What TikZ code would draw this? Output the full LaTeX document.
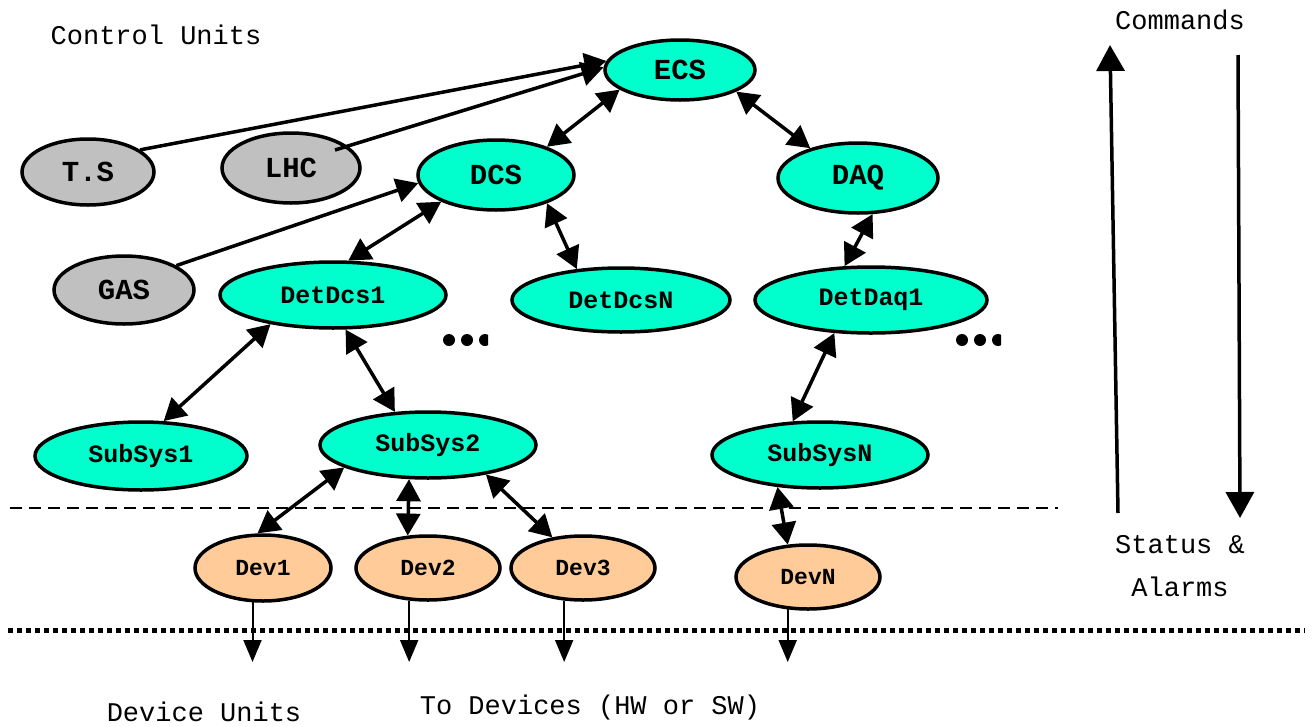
\documentclass[tikz,border=0pt]{standalone}
\usepackage{fontspec}
\setmonofont{Liberation Mono}
\usetikzlibrary{arrows.meta,shapes.geometric,calc}
\definecolor{aqua}{RGB}{0,255,204}
\definecolor{grayn}{RGB}{192,192,192}
\definecolor{peach}{RGB}{255,204,153}
\begin{document}
\begin{tikzpicture}[x=1pt,y=-1pt,
  unit/.style={ellipse, draw, line width=3.5pt, inner sep=0pt, fill=aqua,
    font=\ttfamily\bfseries\fontsize{25}{25}\selectfont},
  bigunit/.style={unit, font=\ttfamily\bfseries\fontsize{29}{29}\selectfont},
  extunit/.style={bigunit, fill=grayn},
  devunit/.style={unit, fill=peach, font=\ttfamily\bfseries\fontsize{23}{23}\selectfont},
  sz/.style 2 args={minimum width=#1pt, minimum height=#2pt},
  plain/.style={font=\ttfamily\fontsize{27}{27}\selectfont, inner sep=0pt},
  bigtri/.tip={Triangle[length=22pt,width=24pt]},
  devtri/.tip={Triangle[length=22pt,width=18pt]},
  sidetri/.tip={Triangle[length=26pt,width=28pt]},
  link/.style={line width=3.5pt, arrows={bigtri-bigtri}},
  feed/.style={line width=3.5pt, arrows={-bigtri}},
  devout/.style={line width=2pt, arrows={-devtri}},
  side/.style={line width=3.5pt, arrows={-sidetri}}
]
\useasboundingbox (0,0) rectangle (1315,726);

% nodes
\node[bigunit, sz={150}{60}] (ECS) at (680,70) {ECS};
\node[extunit, sz={132}{66}] (TS) at (88,172) {T.S};
\node[extunit, sz={138}{70}] (LHC) at (291,168) {LHC};
\node[bigunit, sz={156}{70}] (DCS) at (496,175) {DCS};
\node[bigunit, sz={160}{70}] (DAQ) at (858,178) {DAQ};
\node[extunit, sz={140}{68}] (GAS) at (124,290) {GAS};
\node[unit, sz={226}{66}] (DetDcs1) at (333,295) {DetDcs1};
\node[unit, sz={218}{64}] (DetDcsN) at (621,300) {DetDcsN};
\node[unit, sz={232}{66}] (DetDaq1) at (871,300) {DetDaq1};
\node[unit, sz={212}{68}] (SubSys1) at (141,456) {SubSys1};
\node[unit, sz={216}{66}] (SubSys2) at (428,445) {SubSys2};
\node[unit, sz={216}{66}] (SubSysN) at (820,455) {SubSysN};
\node[devunit, sz={136}{66}] (Dev1) at (263,568) {Dev1};
\node[devunit, sz={144}{64}] (Dev2) at (428,568) {Dev2};
\node[devunit, sz={144}{64}] (Dev3) at (583,568) {Dev3};
\node[devunit, sz={144}{64}] (DevN) at (808,577) {DevN};

% feeds into ECS / DCS
\draw[feed] (TS.23) -- (ECS.173);
\draw[feed] ($(LHC.center)+(44,-18)$) -- (ECS.178);
\draw[feed] (GAS.25) -- (DCS.186);

% hierarchy links
\draw[link] (ECS.198) -- (DCS.29);
\draw[link] (ECS.339) -- (DAQ.148);
\draw[link] (DCS.206) -- (DetDcs1.66);
\draw[link] (DCS.331) -- (DetDcsN.145);
\draw[link] (DAQ.292) -- (DetDaq1.128);
\draw[link] (DetDcs1.205) -- (SubSys1.57);
\draw[link] (DetDcs1.290) -- (SubSys2.135);
\draw[link] (DetDaq1.222) -- (SubSysN.129);
\draw[link] (SubSys2.195) -- (Dev1.99);
\draw[link] (SubSys2.241) -- (Dev2.122);
\draw[link] (SubSys2.333) -- (Dev3.135);
\draw[link] (SubSysN.217) -- (DevN.122);

% outputs to devices
\coordinate (bot) at (0,662);
\draw[devout] (Dev1.253) -- (Dev1.253 |- bot);
\draw[devout] (Dev2.240) -- (Dev2.240 |- bot);
\draw[devout] (Dev3.240) -- (Dev3.240 |- bot);
\draw[devout] (DevN.238) -- (DevN.238 |- bot);

% separators
\draw[line width=2pt, dash pattern=on 12pt off 7pt] (10,508) -- (1058,508);
\draw[line width=5pt, dash pattern=on 5pt off 4pt] (8,630) -- (1305,630);

% ellipsis dots
\fill (449,340) circle (6pt);
\fill (467,340) circle (6pt);
\begin{scope}
  \clip (478,330) rectangle (488,350);
  \fill (485,340) circle (6pt);
\end{scope}
\fill (962,340) circle (6pt);
\fill (980,340) circle (6pt);
\begin{scope}
  \clip (991,330) rectangle (1001,350);
  \fill (998,340) circle (6pt);
\end{scope}

% side arrows
\coordinate (upS) at (1118,513);
\coordinate (upE) at (1110,45);
\coordinate (dnS) at (1238,55);
\coordinate (dnE) at (1240,518);
\draw[side] (upS) -- (upE);
\draw[side] (dnS) -- (dnE);

% labels
\node[plain] (cu) at (156,35) {Control Units};
\node[plain] (cmd) at (1180,20) {Commands};
\node[plain] (st) at (1180,545) {Status \&};
\node[plain] (al) at (1180,587) {Alarms};
\node[plain] (du) at (204,712) {Device Units};
\node[plain] (td) at (590,708) {To Devices (HW or SW)};
\end{tikzpicture}
\end{document}
